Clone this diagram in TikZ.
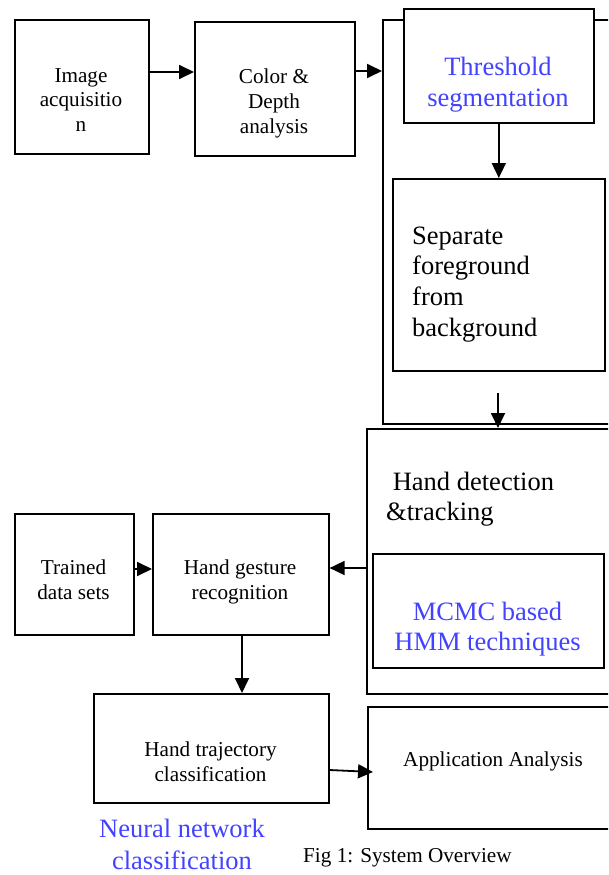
\documentclass[tikz,border=0pt]{standalone}
\usepackage{fontspec}
\setmainfont{Liberation Serif}
\usetikzlibrary{arrows.meta}
\definecolor{txtblue}{RGB}{66,66,255}
\newcommand\fsN[1]{\fontsize{21.2}{#1}\selectfont}
\newcommand\fsB[1]{\fontsize{26.5}{#1}\selectfont}
\tikzset{
  box/.style={draw, line width=1.6pt, inner sep=0pt, anchor=north west, fill=white},
  txt/.style={inner sep=0pt, anchor=base},
  conn/.style={line width=1.8pt, -{Triangle[length=15pt,width=14pt]}},
}
\begin{document}
\begin{tikzpicture}[x=1pt,y=-1pt]
\useasboundingbox (0,0) rectangle (608,875);
\clip (0,0) rectangle (608,875);
% boxes
\node[box, minimum width=134pt, minimum height=134pt] (img) at (14,19) {};
\node[box, minimum width=160pt, minimum height=134pt] (cd) at (194,21) {};
\node[box, minimum width=250pt, minimum height=404pt] (seg) at (382,19) {};
\node[box, minimum width=190pt, minimum height=114pt] (thr) at (403,8) {};
\node[box, minimum width=212pt, minimum height=192pt] (sep) at (392,178) {};
\node[box, minimum width=260pt, minimum height=265pt] (det) at (366,428) {};
\node[box, minimum width=231pt, minimum height=114pt] (mcmc) at (372,553) {};
\node[box, minimum width=119pt, minimum height=121pt] (trained) at (14,513) {};
\node[box, minimum width=176pt, minimum height=121pt] (gest) at (152,513) {};
\node[box, minimum width=235pt, minimum height=109pt] (traj) at (93,693) {};
\node[box, minimum width=252pt, minimum height=122pt] (app) at (367,706) {};
% texts (base anchor = baseline of last line)
\node[txt, font=\fsN{24.5}, align=center] (imgt) at (81,131) {Image\\acquisitio\\n};
\node[txt, font=\fsN{25}, align=center] (cdt) at (274,133) {Color \&\\Depth\\analysis};
\node[txt, font=\fsB{31}, align=center, text=txtblue] (thrt) at (498,106) {Threshold\\segmentation};
\node[txt, font=\fsB{30.8}, align=left, anchor=base west] (sept) at (412,336.5) {Separate\\foreground\\from\\background};
\node[txt, font=\fsB{30}, align=left, anchor=base west] (dett) at (386,520) {\hspace*{0.25em}Hand detection\\\&tracking};
\node[txt, font=\fsB{30}, align=center, text=txtblue] (mcmct) at (487.5,650) {MCMC based\\HMM techniques};
\node[txt, font=\fsN{25}, align=center] (trainedt) at (73.5,599) {Trained\\data sets};
\node[txt, font=\fsN{25}, align=center] (gestt) at (240,599) {Hand gesture\\recognition};
\node[txt, font=\fsN{25}, align=center] (trajt) at (210.5,781) {Hand trajectory\\classification};
\node[txt, font=\fsN{25}] (appt) at (493,766) {Application Analysis};
\node[txt, font=\fsB{32}, align=center, text=txtblue] (nnt) at (182,869.5) {Neural network\\classification};
\node[txt, font=\fsN{25}, anchor=base west] (cap) at (303,862) {Fig 1: System Overview};
% connectors
\coordinate (segout) at (498,393);
\draw[conn] (img.east |- 0,72) -- (cd.west |- 0,72);
\draw[conn] (cd.east |- 0,71) -- (seg.west |- 0,71);
\draw[conn] (thr.south) -- (thr.south |- sep.north);
\draw[conn] (segout) -- (segout |- det.north);
\draw[conn] (det.west |- 0,568) -- (gest.east |- 0,568);
\draw[conn] (trained.east |- 0,569) -- (gest.west |- 0,569);
\draw[conn] (gest.south -| 242,0) -- (traj.north -| 242,0);
\draw[conn] (traj.east |- 0,770) -- ([xshift=6pt]app.west |- 0,772);
\end{tikzpicture}
\end{document}
